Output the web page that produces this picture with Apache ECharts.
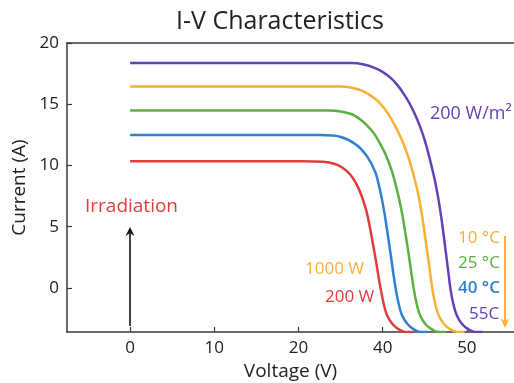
<!DOCTYPE html>
<html>
<head>
<meta charset="utf-8">
<script src="https://cdn.jsdelivr.net/npm/echarts@6/dist/echarts.min.js"></script>
<style>
html,body{margin:0;padding:0;background:#fff;}
#main{width:514px;height:383px;}
</style>
</head>
<body>
<div id="main"></div>
<script>
// Axis positions: tick labels are evenly spaced on the reference (note: "30" absent)
var xTickPositions = [0, 10, 20, 30, 40];
var xTickLabels = ['0', '10', '20', '40', '50'];
var yTickValues = [0, 5, 10, 15, 20];

// I-V curves, [voltage-axis position, current (A)]
var curveRed = [[0,10.35],[20.18,10.35],[22.91,10.30],[24.33,10.12],[25.28,9.80],[26.11,9.28],[26.71,8.70],[27.18,8.05],[27.66,7.20],[28.13,6.11],[28.49,4.92],[28.84,3.61],[29.20,2.21],[29.55,0.74],[29.79,-0.16],[30.15,-1.39],[30.56,-2.30],[31.16,-2.95],[31.87,-3.36],[32.70,-3.59],[33.59,-3.60]];
var curveBlue = [[0,12.48],[22.55,12.48],[24.93,12.35],[26.82,11.72],[28.13,10.76],[29.14,9.43],[29.67,8.03],[30.03,6.80],[30.34,5.57],[30.92,2.87],[31.29,1.07],[31.57,-0.16],[31.93,-1.39],[32.34,-2.30],[32.94,-2.95],[33.65,-3.36],[34.48,-3.59],[35.37,-3.60]];
var curveGreen = [[0,14.48],[23.74,14.48],[25.16,14.39],[26.35,14.18],[27.30,13.77],[28.13,13.28],[28.96,12.62],[29.67,11.80],[30.45,10.74],[31.10,9.51],[31.69,8.03],[32.17,6.56],[32.52,5.25],[33.06,2.87],[33.44,1.07],[33.71,-0.16],[34.07,-1.39],[34.48,-2.30],[35.07,-2.95],[35.79,-3.36],[36.62,-3.59],[37.51,-3.60]];
var curveOrange = [[0,16.45],[24.93,16.45],[26.35,16.35],[27.54,16.11],[28.49,15.74],[29.44,15.25],[30.27,14.59],[30.98,13.85],[31.69,12.95],[32.40,11.89],[33.06,10.66],[33.65,9.26],[34.18,7.79],[34.60,6.23],[34.96,4.59],[35.31,2.87],[35.67,1.07],[35.92,-0.16],[36.27,-1.39],[36.69,-2.30],[37.28,-2.95],[37.99,-3.36],[38.82,-3.59],[39.72,-3.60]];
var curvePurple = [[0,18.36],[26.35,18.36],[27.77,18.24],[28.96,17.99],[30.03,17.62],[30.98,17.13],[31.81,16.52],[32.52,15.82],[33.18,15.08],[33.83,14.18],[34.48,13.11],[35.07,11.89],[35.61,10.49],[36.18,8.85],[36.63,7.21],[37.00,5.57],[37.51,2.87],[37.84,1.07],[38.07,-0.16],[38.42,-1.39],[38.84,-2.30],[39.43,-2.95],[40.14,-3.36],[40.97,-3.59],[41.86,-3.60]];

var C = {red:'#e23c3c', blue:'#2f80d1', green:'#5cb040', orange:'#f9b036', purple:'#6541b8', axis:'#3a3a3a'};
var FONT = 'Open Sans';

var chart = echarts.init(document.getElementById('main'), null, {renderer:'canvas'});

function mkSeries(data, color){
  return {type:'line', data:data, smooth:0.3, showSymbol:false, symbol:'none',
    lineStyle:{color:color, width:2.5}, clip:true, z:3};
}

var xMin = -7.5, xMax = 45.6;

var option = {
  animation:false,
  backgroundColor:'#fff',
  title:{text:'I-V Characteristics', left:275, top:4, textAlign:'center',
    textStyle:{fontFamily:FONT, fontSize:25, fontWeight:'normal', color:'#222'}},
  grid:{left:67, right:0, top:43, bottom:51, containLabel:false, outerBoundsMode:'none'},
  xAxis:[{
    type:'value', min:xMin, max:xMax,
    name:'Voltage (V)', nameLocation:'middle', nameGap:29,
    nameTextStyle:{fontFamily:FONT, fontSize:19, color:'#222'},
    axisLine:{show:true, onZero:false, lineStyle:{color:C.axis, width:1.5}},
    axisTick:{show:true, inside:true, length:5, customValues:xTickPositions, lineStyle:{color:C.axis, width:1.2}},
    axisLabel:{customValues:xTickPositions, margin:8, fontFamily:FONT, fontSize:17, color:'#222',
      formatter:function(v){ var i = xTickPositions.indexOf(v); return i>=0 ? xTickLabels[i] : ''; }},
    splitLine:{show:false}
  },{
    type:'value', position:'top', min:xMin, max:xMax,
    axisLine:{show:true, onZero:false, lineStyle:{color:C.axis, width:1.5}},
    axisTick:{show:false}, axisLabel:{show:false}, splitLine:{show:false}
  }],
  yAxis:{
    type:'value', min:-3.6, max:20,
    name:'Current (A)', nameLocation:'middle', nameGap:38, nameRotate:90,
    nameTextStyle:{fontFamily:FONT, fontSize:19, color:'#222'},
    axisLine:{show:true, onZero:false, lineStyle:{color:C.axis, width:1.5}},
    axisTick:{show:true, inside:true, length:5, customValues:yTickValues, lineStyle:{color:C.axis, width:1.2}},
    axisLabel:{customValues:yTickValues, margin:8, fontFamily:FONT, fontSize:17, color:'#222'},
    splitLine:{show:false}
  },
  series:[
    mkSeries(curveRed, C.red),
    mkSeries(curveBlue, C.blue),
    mkSeries(curveGreen, C.green),
    mkSeries(curveOrange, C.orange),
    mkSeries(curvePurple, C.purple)
  ],
  graphic:[
    {type:'text', left:85, top:197, style:{text:'Irradiation', fill:C.red, font:'19px "Open Sans"'}},
    {type:'line', shape:{x1:130, y1:326, x2:130, y2:232}, style:{stroke:'#111', lineWidth:1.6}},
    {type:'polygon', shape:{points:[[130,227],[125.5,236],[130,233],[134.5,236]]}, style:{fill:'#111'}},
    {type:'text', left:430, top:105, style:{text:'200 W/m²', fill:C.purple, font:'18px "Open Sans"'}},
    {type:'text', left:305, top:261, style:{text:'1000 W', fill:C.orange, font:'17px "Open Sans"'}},
    {type:'text', left:325, top:289, style:{text:'200 W', fill:C.red, font:'17px "Open Sans"'}},
    {type:'text', left:458, top:230, style:{text:'10 °C', fill:C.orange, font:'17px "Open Sans"'}},
    {type:'text', left:458, top:255, style:{text:'25 °C', fill:C.green, font:'17px "Open Sans"'}},
    {type:'text', left:458, top:280, style:{text:'40 °C', fill:C.blue, font:'600 17px "Open Sans"'}},
    {type:'text', left:469, top:306, style:{text:'55C', fill:C.purple, font:'17px "Open Sans"'}},
    {type:'line', shape:{x1:505, y1:236, x2:505, y2:321}, style:{stroke:C.orange, lineWidth:2}},
    {type:'polygon', shape:{points:[[505,328],[500.5,318],[505,321.5],[509.5,318]]}, style:{fill:C.orange}}
  ]
};
chart.setOption(option);
</script>
</body>
</html>
